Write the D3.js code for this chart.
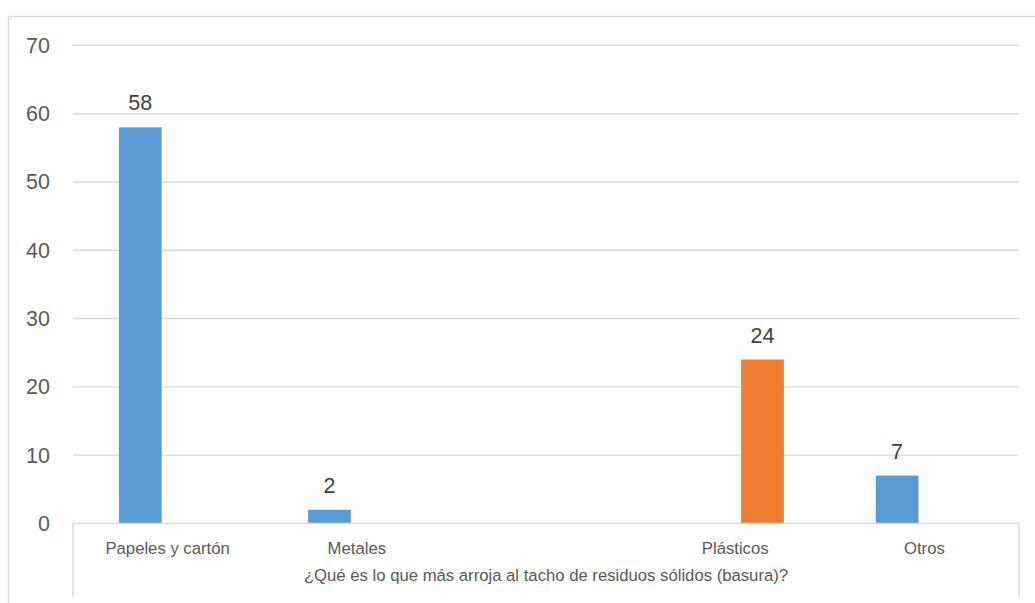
<!DOCTYPE html>
<html>
<head>
<meta charset="utf-8">
<script src="https://cdn.jsdelivr.net/npm/d3@7"></script>
<style>
  html, body { margin: 0; padding: 0; background: #fff; }
  svg { display: block; }
</style>
</head>
<body>
<svg id="chart" width="1035" height="603"></svg>
<script>
// ---- data ----
const categories = ["Papeles y cartón", "Metales", "", "Plásticos", "Otros"];
const seriesNames = ["Serie 1", "Serie 2"];
const serie1 = [58, 2, null, null, 7];
const serie2 = [null, null, null, 24, null];
const yTicks = [0, 10, 20, 30, 40, 50, 60, 70];
const axisTitle = "¿Qué es lo que más arroja al tacho de residuos sólidos (basura)?";
const seriesColors = ["#5B9BD5", "#ED7D31"];

// ---- layout ----
const svg = d3.select("#chart");
const plotLeft = 73, plotRight = 1019, plotTop = 45.4, plotBottom = 523.4;
const font = "'Liberation Sans', Arial, sans-serif";

// outer chart border
svg.append("rect")
  .attr("x", 8.5).attr("y", 16.5)
  .attr("width", 1100).attr("height", 700)
  .attr("fill", "none").attr("stroke", "#d9d9d9").attr("stroke-width", 1.3);

const idx = categories.map((d, i) => i);
const x = d3.scaleBand().domain(idx).range([plotLeft, plotRight]).paddingInner(0).paddingOuter(0);
const bw = x.bandwidth();
const x1 = d3.scaleBand().domain(seriesNames)
  .range([bw / 2 - 48.65, bw / 2 + 48.65]).paddingInner(0.218).paddingOuter(0);
const y = d3.scaleLinear().domain([0, 70]).range([plotBottom, plotTop]);

// gridlines
svg.append("g").selectAll("line")
  .data(yTicks.filter(t => t !== 0))
  .join("line")
  .attr("x1", plotLeft).attr("x2", plotRight)
  .attr("y1", d => y(d)).attr("y2", d => y(d))
  .attr("stroke", "#d9d9d9").attr("stroke-width", 1.4);

// y axis labels
const yAxis = svg.append("g")
  .attr("transform", `translate(${plotLeft},0)`)
  .call(d3.axisLeft(y).tickValues(yTicks).tickSize(0).tickPadding(23).tickFormat(d3.format("d")));
yAxis.select(".domain").remove();
yAxis.selectAll("text")
  .attr("font-family", font).attr("font-size", 21.5).attr("fill", "#595959");

// bars
const seriesData = [serie1, serie2];
seriesData.forEach((vals, si) => {
  const pts = vals.map((v, i) => ({ i, v })).filter(d => d.v != null);
  const g = svg.append("g");
  g.selectAll("rect").data(pts).join("rect")
    .attr("x", d => x(d.i) + x1(seriesNames[si]))
    .attr("y", d => y(d.v))
    .attr("width", x1.bandwidth())
    .attr("height", d => y(0) - y(d.v))
    .attr("fill", seriesColors[si]);
  g.selectAll("text").data(pts).join("text")
    .attr("x", d => x(d.i) + x1(seriesNames[si]) + x1.bandwidth() / 2)
    .attr("y", d => y(d.v) - 17)
    .attr("text-anchor", "middle")
    .attr("font-family", font).attr("font-size", 21.5).attr("fill", "#404040")
    .text(d => d.v);
});

// category axis box
const axisBoxBottom = 597;
svg.append("line").attr("x1", plotLeft).attr("x2", plotRight).attr("y1", plotBottom).attr("y2", plotBottom)
  .attr("stroke", "#d9d9d9").attr("stroke-width", 1.4);
svg.append("line").attr("x1", plotLeft).attr("x2", plotLeft).attr("y1", plotBottom).attr("y2", axisBoxBottom)
  .attr("stroke", "#d9d9d9").attr("stroke-width", 1.4);
svg.append("line").attr("x1", plotRight).attr("x2", plotRight).attr("y1", plotBottom).attr("y2", axisBoxBottom)
  .attr("stroke", "#d9d9d9").attr("stroke-width", 1.4);

const xAxis = svg.append("g")
  .attr("transform", `translate(0,${plotBottom})`)
  .call(d3.axisBottom(x).tickSize(0).tickPadding(18.3).tickFormat(i => categories[i]));
xAxis.select(".domain").remove();
xAxis.selectAll("text")
  .attr("font-family", font).attr("font-size", 16.7).attr("fill", "#595959");

// multi-level group label
svg.append("text")
  .attr("x", (plotLeft + plotRight) / 2).attr("y", 581)
  .attr("text-anchor", "middle")
  .attr("font-family", font).attr("font-size", 16.7).attr("fill", "#595959")
  .text(axisTitle);
</script>
</body>
</html>
